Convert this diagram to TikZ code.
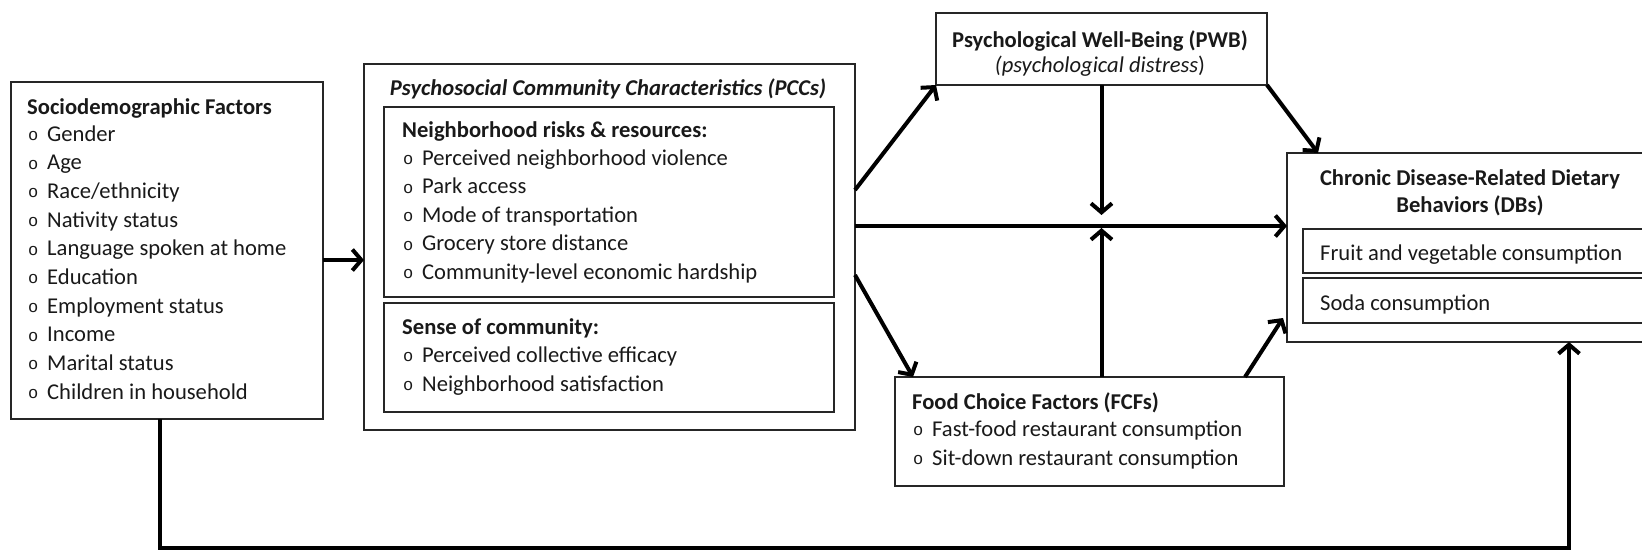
\documentclass[tikz,border=0pt]{standalone}
\usepackage{fontspec}
\setmainfont{Carlito}
\newfontfamily\bulfont{Liberation Mono}
\usetikzlibrary{arrows.meta}
\newcommand{\bl}{\makebox[19pt][l]{\raisebox{0.5pt}{\bulfont\fontsize{17}{17}\selectfont o}}}
\begin{document}
\begin{tikzpicture}[x=1pt,y=-1pt,
  box/.style={draw=black!85, line width=1.3pt, anchor=north west, inner sep=0pt, outer sep=0pt},
  txt/.style={anchor=base west, inner sep=0pt, font=\fontsize{22.6}{26}\selectfont, text=black!90},
  txtc/.style={txt, anchor=base},
  hd/.style={font=\fontsize{22.6}{26}\selectfont\bfseries},
  arr/.style={line width=4pt, line join=miter, -{Straight Barb[length=9pt,width=21pt]}}
]
\clip (0,0) rectangle (1642,550);
% boxes
\node[box, minimum width=312pt, minimum height=337pt] (soc) at (11,82) {};
\node[box, minimum width=491pt, minimum height=366pt] (pcc) at (364,64) {};
\node[box, minimum width=450pt, minimum height=190pt] (pcc1) at (384,107) {};
\node[box, minimum width=450pt, minimum height=109pt] (pcc2) at (384,303) {};
\node[box, minimum width=331pt, minimum height=72pt] (pwb) at (936,13) {};
\node[box, minimum width=389pt, minimum height=109pt] (fcf) at (895,377) {};
\node[box, minimum width=370pt, minimum height=189pt] (db) at (1287,153) {};
\node[box, minimum width=360pt, minimum height=44pt] (db1) at (1303,229) {};
\node[box, minimum width=360pt, minimum height=45pt] (db2) at (1303,278) {};
% sociodemographic
\node[txt, hd] (soct) at (27,114) {Sociodemographic Factors};
\foreach \t [count=\i from 0] in {Gender, Age, Race/ethnicity, Nativity status, Language spoken at home, Education, Employment status, Income, Marital status, Children in household}
  \node[txt] (si\i) at (28,{141+28.67*\i}) {\bl\t};
% PCC
\node[txtc, font=\fontsize{22.6}{26}\selectfont\bfseries\itshape] (pcct) at (608,95) {Psychosocial Community Characteristics (PCCs)};
\node[txt, hd] (p1t) at (402,137) {Neighborhood risks \& resources:};
\foreach \t [count=\i from 0] in {Perceived neighborhood violence, Park access, Mode of transportation, Grocery store distance, Community-level economic hardship}
  \node[txt] (p1i\i) at (403,{165+28.5*\i}) {\bl\t};
\node[txt, hd] (p2t) at (402,334) {Sense of community:};
\node[txt] (p2a) at (403,362) {\bl Perceived collective efficacy};
\node[txt] (p2b) at (403,391) {\bl Neighborhood satisfaction};
% PWB
\node[txtc, hd] (pwbt) at (1100,47) {Psychological Well-Being (PWB)};
\node[txtc] (pwbs) at (1100,72) {\textit{(psychological distress})};
% FCF
\node[txt, hd] (fcft) at (912,409) {Food Choice Factors (FCFs)};
\node[txt] (fcfa) at (913,436) {\bl Fast-food restaurant consumption};
\node[txt] (fcfb) at (913,465) {\bl Sit-down restaurant consumption};
% DB
\node[txtc, hd] (dbt1) at (1470,185) {Chronic Disease-Related Dietary};
\node[txtc, hd] (dbt2) at (1470,212) {Behaviors (DBs)};
\node[txt] (db1t) at (1320,260) {Fruit and vegetable consumption};
\node[txt] (db2t) at (1320,310) {Soda consumption};
% connectors
\coordinate (a1) at ([yshift=-9.5pt]soc.east);
\draw[arr] (a1) -- (a1 -| pcc.west);
\draw[arr] ([yshift=57pt]pcc.east) -- (pwb.south west);
\coordinate (a2) at ([yshift=21pt]pcc.east);
\draw[arr] (a2) -- (a2 -| db.west);
\draw[arr] ([yshift=-28pt]pcc.east) -- ([xshift=18pt]fcf.north west);
\coordinate (hl) at (a2 -| pwb.south);
\draw[arr] (pwb.south) -- ([yshift=11pt]hl);
\draw[arr] (pwb.south |- fcf.north) -- ([yshift=-2pt]hl);
\draw[arr] (pwb.south east) -- ([xshift=31pt]db.north west);
\draw[arr] ([xshift=-39pt]fcf.north east) -- ([xshift=-4pt,yshift=24pt]db.south west);
\coordinate (bot) at (0,548);
\coordinate (c1) at ([xshift=149pt]soc.south west);
\coordinate (c2) at ([xshift=282pt]db.south west);
\draw[arr] (c1) -- (c1 |- bot) -- (c2 |- bot) -- (c2);
\end{tikzpicture}
\end{document}
